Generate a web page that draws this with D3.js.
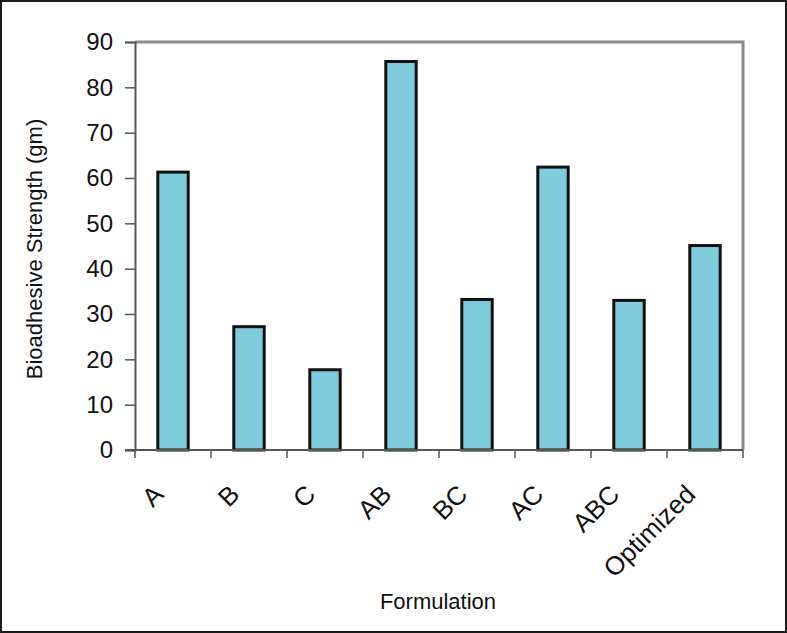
<!DOCTYPE html>
<html>
<head>
<meta charset="utf-8">
<script src="https://cdnjs.cloudflare.com/ajax/libs/d3/7.8.5/d3.min.js"></script>
<style>
  html, body { margin: 0; padding: 0; background: #fff; }
  svg { display: block; font-family: "Liberation Sans", Arial, sans-serif; }
</style>
</head>
<body>
<svg id="chart" width="787" height="633"></svg>
<script>
// data
var categories = ["A", "B", "C", "AB", "BC", "AC", "ABC", "Optimized"];
var strength = [61.3, 27.2, 17.7, 85.7, 33.2, 62.4, 33.0, 45.1];
var yTicks = [0, 10, 20, 30, 40, 50, 60, 70, 80, 90];

var svg = d3.select("#chart");
var W = 787, H = 633;
var plot = {left: 135, top: 42, right: 743, bottom: 450};

// outer border
svg.append("rect")
    .attr("x", 1).attr("y", 1)
    .attr("width", W - 2).attr("height", H - 2)
    .attr("fill", "#fff")
    .attr("stroke", "#1a1a1a")
    .attr("stroke-width", 2);

var x = d3.scaleBand()
    .domain(categories)
    .range([plot.left, plot.right])
    .paddingInner(0).paddingOuter(0);

var y = d3.scaleLinear()
    .domain([0, 90])
    .range([plot.bottom, plot.top]);

// top / right frame
svg.append("path")
    .attr("d", "M" + plot.left + "," + plot.top + "H" + plot.right + "V" + plot.bottom)
    .attr("fill", "none")
    .attr("stroke", "#8c8c8c")
    .attr("stroke-width", 3);

// bars
var barW = x.bandwidth() * 0.4;
svg.selectAll("rect.bar").data(categories).enter()
    .append("rect")
    .attr("class", "bar")
    .attr("x", function(d) { return x(d) + (x.bandwidth() - barW) / 2; })
    .attr("y", function(d, i) { return y(strength[i]); })
    .attr("width", barW)
    .attr("height", function(d, i) { return y(0) - y(strength[i]); })
    .attr("fill", "#80cbdb")
    .attr("stroke", "#111")
    .attr("stroke-width", 3);

// y axis
var yAxis = svg.append("g")
    .attr("transform", "translate(" + plot.left + ",0)")
    .call(d3.axisLeft(y).tickValues(yTicks).tickSize(10).tickPadding(12));
yAxis.select(".domain").attr("stroke", "#555").attr("stroke-width", 2);
yAxis.selectAll(".tick line").attr("stroke", "#555").attr("stroke-width", 1.5);
yAxis.selectAll(".tick text")
    .style("font-size", "24px")
    .attr("fill", "#111")
    .style("font-family", "Liberation Sans, Arial, sans-serif");

// x axis (ticks at band edges)
var xAxisG = svg.append("g");
xAxisG.append("line")
    .attr("x1", plot.left - 10).attr("x2", plot.right)
    .attr("y1", plot.bottom).attr("y2", plot.bottom)
    .attr("stroke", "#555").attr("stroke-width", 2);
var edges = categories.map(function(d) { return x(d); }).concat([plot.right]);
xAxisG.selectAll("line.xt").data(edges).enter()
    .append("line")
    .attr("class", "xt")
    .attr("x1", function(d) { return d; }).attr("x2", function(d) { return d; })
    .attr("y1", plot.bottom).attr("y2", plot.bottom + 8)
    .attr("stroke", "#555").attr("stroke-width", 1.5);

xAxisG.selectAll("text.xl").data(categories).enter()
    .append("text")
    .attr("class", "xl")
    .attr("text-anchor", "end")
    .style("font-size", "26px")
    .attr("fill", "#111")
    .attr("transform", function(d) {
        var cx = x(d) + x.bandwidth() / 2 - 8;
        return "translate(" + cx + "," + (plot.bottom + 46) + ") rotate(-45)";
    })
    .text(function(d) { return d; });

// axis titles
svg.append("text")
    .attr("transform", "translate(42,249) rotate(-90)")
    .attr("text-anchor", "middle")
    .style("font-size", "22px")
    .attr("fill", "#111")
    .text("Bioadhesive Strength (gm)");

svg.append("text")
    .attr("x", 438).attr("y", 609)
    .attr("text-anchor", "middle")
    .style("font-size", "22px")
    .attr("fill", "#111")
    .text("Formulation");
</script>
</body>
</html>
